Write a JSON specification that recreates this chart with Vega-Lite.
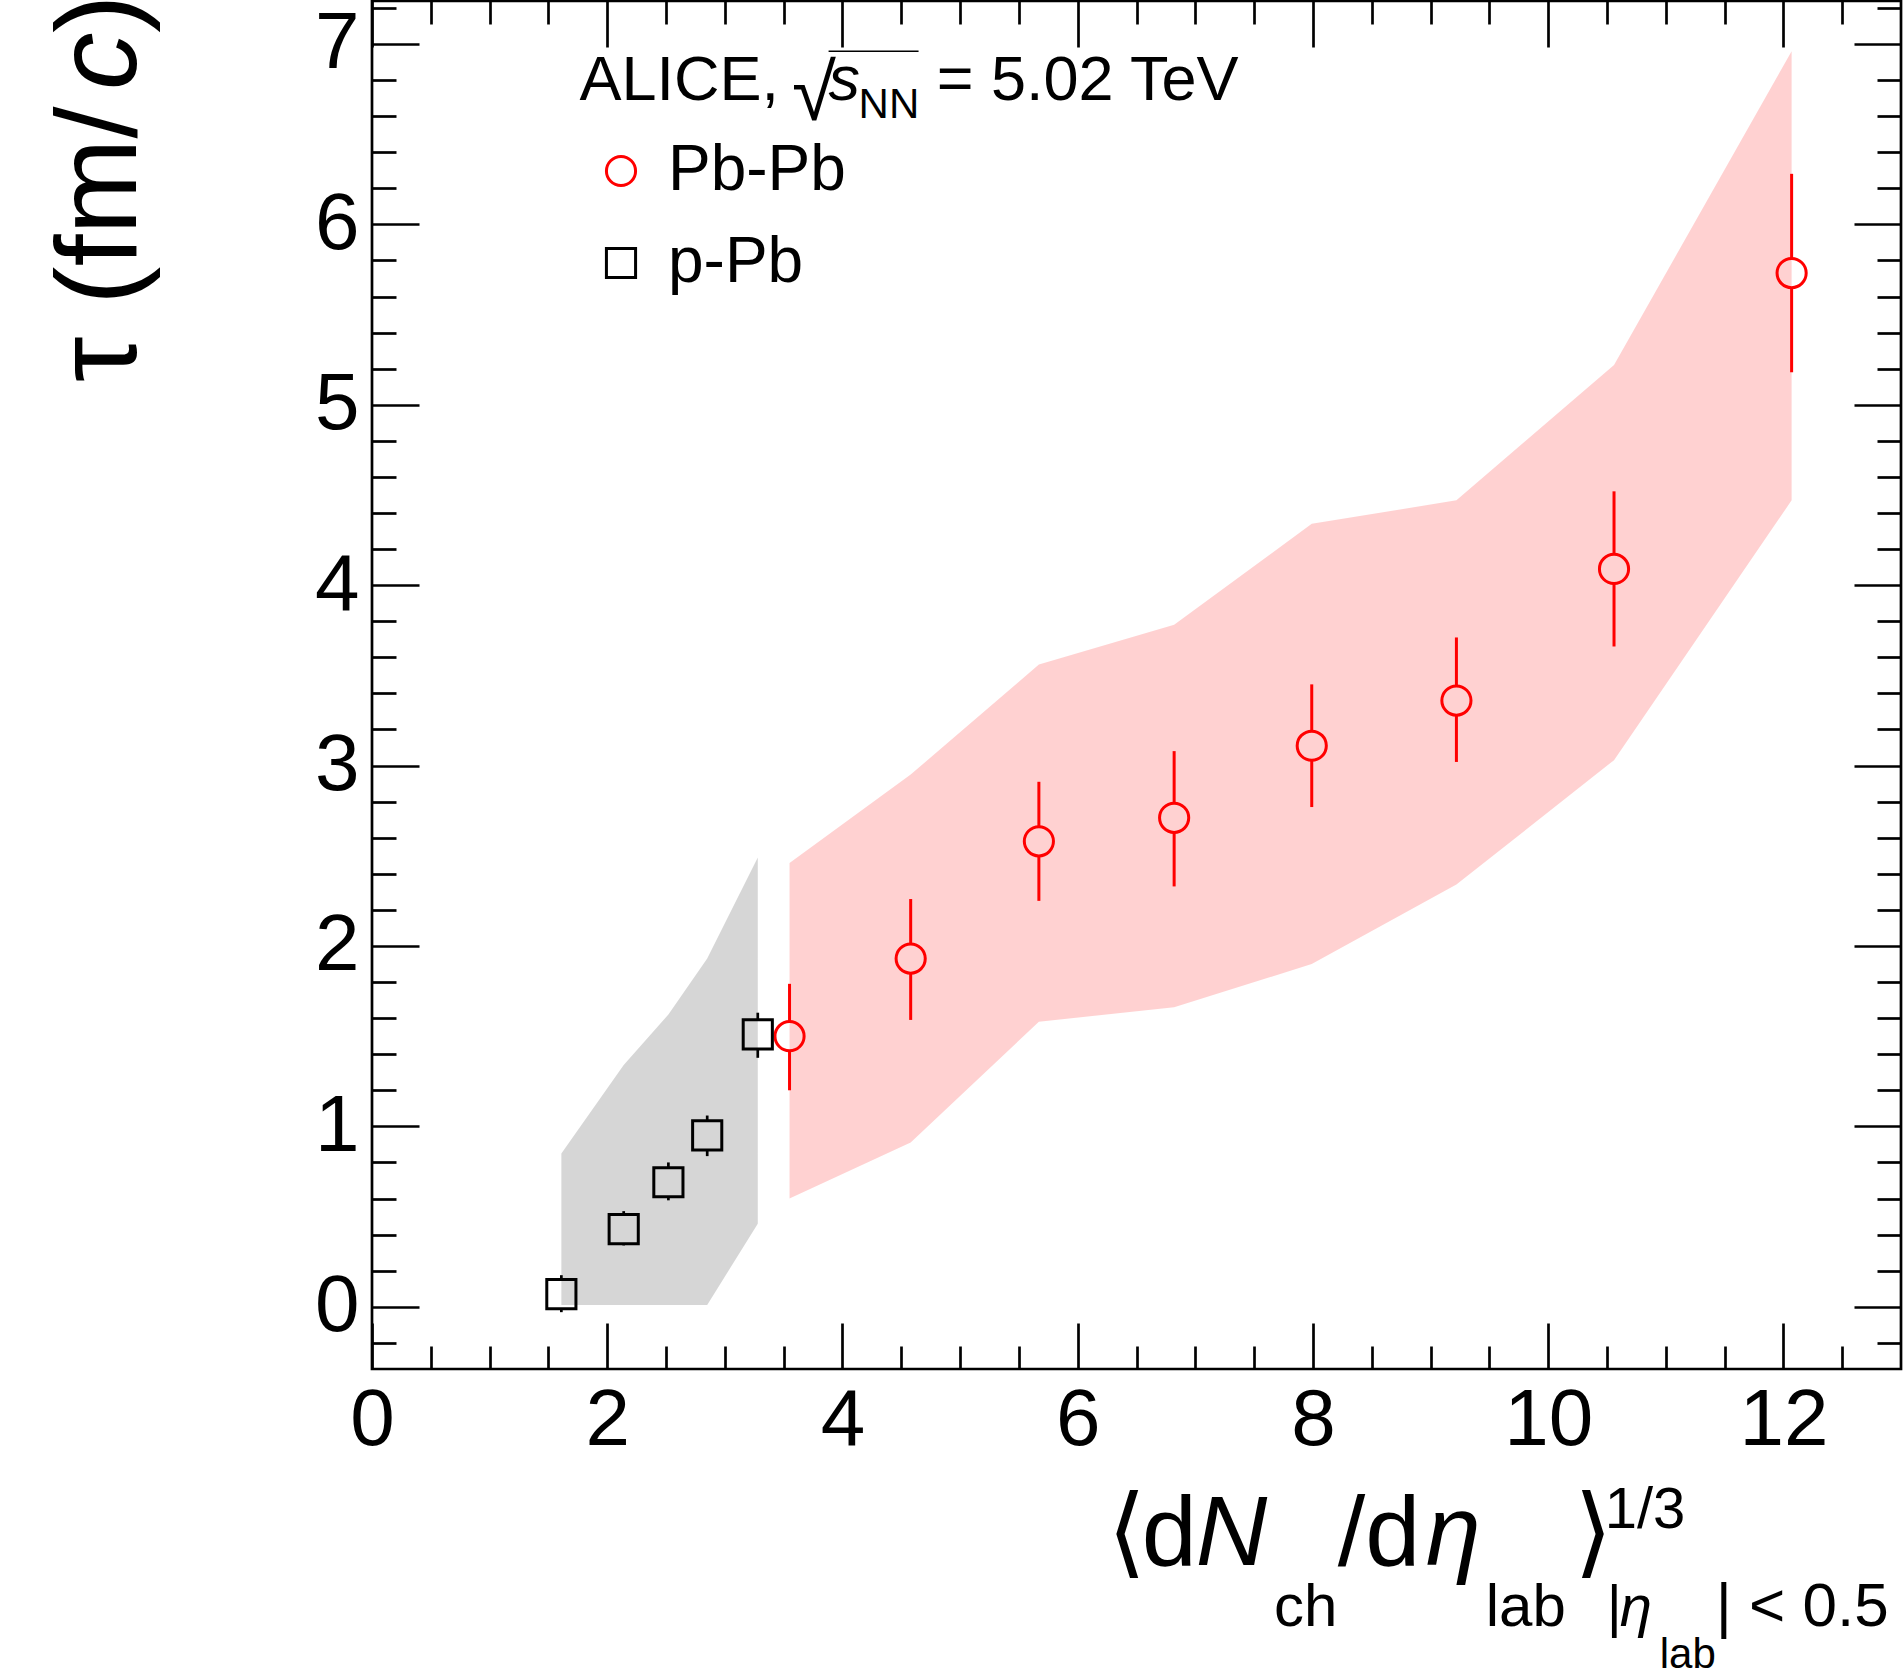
{
  "$schema": "https://vega.github.io/schema/vega-lite/v6.json",
  "width": 1529,
  "height": 1368,
  "autosize": {"type": "none"},
  "padding": {"left": 372, "top": 1, "right": 2, "bottom": 308},
  "datasets": {
    "meas": [
      {"sys": "Pb-Pb", "x": 3.55, "y": 1.50, "lo": 1.20, "hi": 1.79, "blo": 0.60, "bhi": 2.46},
      {"sys": "Pb-Pb", "x": 4.58, "y": 1.93, "lo": 1.59, "hi": 2.26, "blo": 0.91, "bhi": 2.95},
      {"sys": "Pb-Pb", "x": 5.67, "y": 2.58, "lo": 2.25, "hi": 2.91, "blo": 1.58, "bhi": 3.56},
      {"sys": "Pb-Pb", "x": 6.82, "y": 2.71, "lo": 2.33, "hi": 3.08, "blo": 1.66, "bhi": 3.78},
      {"sys": "Pb-Pb", "x": 7.99, "y": 3.11, "lo": 2.77, "hi": 3.45, "blo": 1.90, "bhi": 4.34},
      {"sys": "Pb-Pb", "x": 9.22, "y": 3.36, "lo": 3.02, "hi": 3.71, "blo": 2.34, "bhi": 4.47},
      {"sys": "Pb-Pb", "x": 10.56, "y": 4.09, "lo": 3.66, "hi": 4.52, "blo": 3.03, "bhi": 5.22},
      {"sys": "Pb-Pb", "x": 12.07, "y": 5.73, "lo": 5.18, "hi": 6.28, "blo": 4.47, "bhi": 6.96},
      {"sys": "p-Pb", "x": 1.61, "y": 0.07, "lo": -0.03, "hi": 0.175, "blo": 0.01, "bhi": 0.85},
      {"sys": "p-Pb", "x": 2.14, "y": 0.43, "lo": 0.34, "hi": 0.53, "blo": 0.01, "bhi": 1.34},
      {"sys": "p-Pb", "x": 2.52, "y": 0.69, "lo": 0.59, "hi": 0.80, "blo": 0.01, "bhi": 1.62},
      {"sys": "p-Pb", "x": 2.85, "y": 0.95, "lo": 0.835, "hi": 1.06, "blo": 0.01, "bhi": 1.93},
      {"sys": "p-Pb", "x": 3.28, "y": 1.51, "lo": 1.38, "hi": 1.63, "blo": 0.46, "bhi": 2.49}
    ],
    "reg63": [
      {"x": 1.764, "y": 6.689, "t": "ALICE,"},
      {"x": 4.801, "y": 6.689, "t": "= 5.02 TeV"}
    ],
    "reg62": [
      {"x": 11.425, "y": -1.770, "t": "| < 0.5"}
    ],
    "it63": [{"x": 3.882, "y": 6.689, "t": "s"}],
    "sub42": [
      {"x": 4.137, "y": 6.589, "t": "NN"},
      {"x": 10.949, "y": -2.003, "t": "lab"}
    ],
    "rad": [{"x": 3.570, "y": 6.580, "t": "√"}],
    "ovl": [{"x": 3.882, "x2": 4.647, "y": 6.960}],
    "reg99": [
      {"x": 6.254, "y": -1.432, "t": "⟨"},
      {"x": 6.544, "y": -1.432, "t": "d"},
      {"x": 8.211, "y": -1.432, "t": "/d"},
      {"x": 10.219, "y": -1.432, "t": "⟩"}
    ],
    "it99": [
      {"x": 7.003, "y": -1.432, "t": "N"},
      {"x": 8.959, "y": -1.432, "t": "η"}
    ],
    "sub60": [
      {"x": 7.670, "y": -1.770, "t": "ch"},
      {"x": 9.469, "y": -1.770, "t": "lab"}
    ],
    "reg58": [
      {"x": 10.481, "y": -1.226, "t": "1/3"},
      {"x": 10.498, "y": -1.770, "t": "|"}
    ],
    "it58": [{"x": 10.608, "y": -1.770, "t": "η"}],
    "ytitle": [
      {"x": -2.004, "y": 5.126, "t": "τ (fm/"},
      {"x": -2.004, "y": 7.06, "t": ")"}
    ],
    "ytitleit": [{"x": -2.004, "y": 6.745, "t": "c"}]
  },
  "config": {
    "font": "Liberation Sans",
    "view": {"stroke": "black", "strokeWidth": 2.7},
    "axis": {
      "domain": false,
      "grid": false,
      "tickColor": "black",
      "tickWidth": 2.7,
      "labelColor": "black",
      "labelFont": "Liberation Sans",
      "labelFontSize": 80,
      "labelOverlap": false,
      "labelFlush": false,
      "labelBound": false
    }
  },
  "resolve": {"axis": {"x": "independent", "y": "independent"}},
  "layer": [
    {
      "data": {"name": "meas"},
      "transform": [{"filter": "datum.sys === 'Pb-Pb'"}],
      "mark": {"type": "rule", "color": "#ff0000", "strokeWidth": 3},
      "encoding": {
        "x": {"field": "x", "type": "quantitative", "scale": {"domain": [0, 13], "nice": false, "zero": false}, "axis": null},
        "y": {"field": "lo", "type": "quantitative", "scale": {"domain": [-0.345, 7.238], "nice": false, "zero": false}, "axis": null},
        "y2": {"field": "hi"}
      }
    },
    {
      "data": {"name": "meas"},
      "transform": [{"filter": "datum.sys === 'p-Pb'"}],
      "mark": {"type": "rule", "color": "#000000", "strokeWidth": 2.7},
      "encoding": {
        "x": {"field": "x", "type": "quantitative", "scale": {"domain": [0, 13], "nice": false, "zero": false}, "axis": null},
        "y": {"field": "lo", "type": "quantitative", "scale": {"domain": [-0.345, 7.238], "nice": false, "zero": false}, "axis": null},
        "y2": {"field": "hi"}
      }
    },
    {
      "data": {"name": "meas"},
      "transform": [{"filter": "datum.sys === 'Pb-Pb'"}],
      "mark": {"type": "point", "shape": "circle", "filled": true, "size": 850, "color": "white", "opacity": 1, "strokeWidth": 0},
      "encoding": {
        "x": {"field": "x", "type": "quantitative", "scale": {"domain": [0, 13], "nice": false, "zero": false}, "axis": null},
        "y": {"field": "y", "type": "quantitative", "scale": {"domain": [-0.345, 7.238], "nice": false, "zero": false}, "axis": null}
      }
    },
    {
      "data": {"name": "meas"},
      "transform": [{"filter": "datum.sys === 'p-Pb'"}],
      "mark": {"type": "point", "shape": "square", "filled": true, "size": 850, "color": "white", "opacity": 1, "strokeWidth": 0},
      "encoding": {
        "x": {"field": "x", "type": "quantitative", "scale": {"domain": [0, 13], "nice": false, "zero": false}, "axis": null},
        "y": {"field": "y", "type": "quantitative", "scale": {"domain": [-0.345, 7.238], "nice": false, "zero": false}, "axis": null}
      }
    },
    {
      "data": {"name": "meas"},
      "transform": [{"filter": "datum.sys === 'Pb-Pb'"}],
      "mark": {"type": "area", "color": "#ff0000", "opacity": 0.18, "interpolate": "linear"},
      "encoding": {
        "x": {
          "field": "x", "type": "quantitative",
          "scale": {"domain": [0, 13], "nice": false, "zero": false},
          "axis": {
            "orient": "bottom", "title": null,
            "values": [0, 0.5, 1, 1.5, 2, 2.5, 3, 3.5, 4, 4.5, 5, 5.5, 6, 6.5, 7, 7.5, 8, 8.5, 9, 9.5, 10, 10.5, 11, 11.5, 12, 12.5],
            "labelExpr": "datum.value % 2 === 0 ? '' + datum.value : ''",
            "tickSize": {"condition": {"test": "datum.value % 2 === 0", "value": -46}, "value": -23},
            "labelPadding": 58
          }
        },
        "y": {
          "field": "blo", "type": "quantitative",
          "scale": {"domain": [-0.345, 7.238], "nice": false, "zero": false},
          "axis": {
            "orient": "left", "title": null,
            "values": [-0.2, 0, 0.2, 0.4, 0.6, 0.8, 1, 1.2, 1.4, 1.6, 1.8, 2, 2.2, 2.4, 2.6, 2.8, 3, 3.2, 3.4, 3.6, 3.8, 4, 4.2, 4.4, 4.6, 4.8, 5, 5.2, 5.4, 5.6, 5.8, 6, 6.2, 6.4, 6.6, 6.8, 7, 7.2],
            "labelExpr": "abs(datum.value - round(datum.value)) < 0.01 ? '' + round(datum.value) : ''",
            "tickSize": {"condition": {"test": "abs(datum.value - round(datum.value)) < 0.01", "value": -47}, "value": -24},
            "labelPadding": 60
          }
        },
        "y2": {"field": "bhi"}
      }
    },
    {
      "data": {"name": "meas"},
      "transform": [{"filter": "datum.sys === 'p-Pb'"}],
      "mark": {"type": "area", "color": "#000000", "opacity": 0.16, "interpolate": "linear"},
      "encoding": {
        "x": {
          "field": "x", "type": "quantitative",
          "scale": {"domain": [0, 13], "nice": false, "zero": false},
          "axis": {
            "orient": "top", "title": null, "labels": false,
            "values": [0, 0.5, 1, 1.5, 2, 2.5, 3, 3.5, 4, 4.5, 5, 5.5, 6, 6.5, 7, 7.5, 8, 8.5, 9, 9.5, 10, 10.5, 11, 11.5, 12, 12.5],
            "tickSize": {"condition": {"test": "datum.value % 2 === 0", "value": -46}, "value": -23}
          }
        },
        "y": {
          "field": "blo", "type": "quantitative",
          "scale": {"domain": [-0.345, 7.238], "nice": false, "zero": false},
          "axis": {
            "orient": "right", "title": null, "labels": false,
            "values": [-0.2, 0, 0.2, 0.4, 0.6, 0.8, 1, 1.2, 1.4, 1.6, 1.8, 2, 2.2, 2.4, 2.6, 2.8, 3, 3.2, 3.4, 3.6, 3.8, 4, 4.2, 4.4, 4.6, 4.8, 5, 5.2, 5.4, 5.6, 5.8, 6, 6.2, 6.4, 6.6, 6.8, 7, 7.2],
            "tickSize": {"condition": {"test": "abs(datum.value - round(datum.value)) < 0.01", "value": -47}, "value": -24}
          }
        },
        "y2": {"field": "bhi"}
      }
    },
    {
      "data": {"name": "meas"},
      "mark": {"type": "point", "filled": false, "size": 850, "strokeWidth": 3, "opacity": 1},
      "encoding": {
        "x": {"field": "x", "type": "quantitative", "scale": {"domain": [0, 13], "nice": false, "zero": false}, "axis": null},
        "y": {"field": "y", "type": "quantitative", "scale": {"domain": [-0.345, 7.238], "nice": false, "zero": false}, "axis": null},
        "shape": {
          "field": "sys", "type": "nominal",
          "scale": {"domain": ["Pb-Pb", "p-Pb"], "range": ["circle", "square"]},
          "legend": {"orient": "none", "legendX": 217, "legendY": 138, "title": null, "labelFontSize": 64, "labelFont": "Liberation Sans", "labelColor": "black", "labelLimit": 0, "symbolSize": 850, "symbolStrokeWidth": 3, "rowPadding": 28, "labelOffset": 15, "padding": 0}
        },
        "color": {
          "field": "sys", "type": "nominal",
          "scale": {"domain": ["Pb-Pb", "p-Pb"], "range": ["#ff0000", "#000000"]},
          "legend": {"orient": "none", "legendX": 217, "legendY": 138, "title": null, "labelFontSize": 64, "labelFont": "Liberation Sans", "labelColor": "black", "labelLimit": 0, "symbolSize": 850, "symbolStrokeWidth": 3, "rowPadding": 28, "labelOffset": 15, "padding": 0}
        }
      }
    },
    {
      "data": {"name": "reg63"},
      "mark": {"type": "text", "align": "left", "baseline": "alphabetic", "fontSize": 63, "font": "Liberation Sans", "color": "black"},
      "encoding": {
        "x": {"field": "x", "type": "quantitative", "scale": {"domain": [0, 13], "nice": false, "zero": false}, "axis": null},
        "y": {"field": "y", "type": "quantitative", "scale": {"domain": [-0.345, 7.238], "nice": false, "zero": false}, "axis": null},
        "text": {"field": "t"}
      }
    },
    {
      "data": {"name": "reg62"},
      "mark": {"type": "text", "align": "left", "baseline": "alphabetic", "fontSize": 62, "font": "Liberation Sans", "color": "black"},
      "encoding": {
        "x": {"field": "x", "type": "quantitative", "scale": {"domain": [0, 13], "nice": false, "zero": false}, "axis": null},
        "y": {"field": "y", "type": "quantitative", "scale": {"domain": [-0.345, 7.238], "nice": false, "zero": false}, "axis": null},
        "text": {"field": "t"}
      }
    },
    {
      "data": {"name": "it63"},
      "mark": {"type": "text", "align": "left", "baseline": "alphabetic", "fontSize": 63, "fontStyle": "italic", "font": "Liberation Sans", "color": "black"},
      "encoding": {
        "x": {"field": "x", "type": "quantitative", "scale": {"domain": [0, 13], "nice": false, "zero": false}, "axis": null},
        "y": {"field": "y", "type": "quantitative", "scale": {"domain": [-0.345, 7.238], "nice": false, "zero": false}, "axis": null},
        "text": {"field": "t"}
      }
    },
    {
      "data": {"name": "sub42"},
      "mark": {"type": "text", "align": "left", "baseline": "alphabetic", "fontSize": 42, "font": "Liberation Sans", "color": "black"},
      "encoding": {
        "x": {"field": "x", "type": "quantitative", "scale": {"domain": [0, 13], "nice": false, "zero": false}, "axis": null},
        "y": {"field": "y", "type": "quantitative", "scale": {"domain": [-0.345, 7.238], "nice": false, "zero": false}, "axis": null},
        "text": {"field": "t"}
      }
    },
    {
      "data": {"name": "rad"},
      "mark": {"type": "text", "align": "left", "baseline": "alphabetic", "fontSize": 80, "font": "Liberation Sans", "color": "black"},
      "encoding": {
        "x": {"field": "x", "type": "quantitative", "scale": {"domain": [0, 13], "nice": false, "zero": false}, "axis": null},
        "y": {"field": "y", "type": "quantitative", "scale": {"domain": [-0.345, 7.238], "nice": false, "zero": false}, "axis": null},
        "text": {"field": "t"}
      }
    },
    {
      "data": {"name": "ovl"},
      "mark": {"type": "rule", "color": "black", "strokeWidth": 1.5},
      "encoding": {
        "x": {"field": "x", "type": "quantitative", "scale": {"domain": [0, 13], "nice": false, "zero": false}, "axis": null},
        "x2": {"field": "x2"},
        "y": {"field": "y", "type": "quantitative", "scale": {"domain": [-0.345, 7.238], "nice": false, "zero": false}, "axis": null}
      }
    },
    {
      "data": {"name": "reg99"},
      "mark": {"type": "text", "align": "left", "baseline": "alphabetic", "fontSize": 99, "font": "Liberation Sans, DejaVu Sans", "color": "black"},
      "encoding": {
        "x": {"field": "x", "type": "quantitative", "scale": {"domain": [0, 13], "nice": false, "zero": false}, "axis": null},
        "y": {"field": "y", "type": "quantitative", "scale": {"domain": [-0.345, 7.238], "nice": false, "zero": false}, "axis": null},
        "text": {"field": "t"}
      }
    },
    {
      "data": {"name": "it99"},
      "mark": {"type": "text", "align": "left", "baseline": "alphabetic", "fontSize": 99, "fontStyle": "italic", "font": "Liberation Sans", "color": "black"},
      "encoding": {
        "x": {"field": "x", "type": "quantitative", "scale": {"domain": [0, 13], "nice": false, "zero": false}, "axis": null},
        "y": {"field": "y", "type": "quantitative", "scale": {"domain": [-0.345, 7.238], "nice": false, "zero": false}, "axis": null},
        "text": {"field": "t"}
      }
    },
    {
      "data": {"name": "sub60"},
      "mark": {"type": "text", "align": "left", "baseline": "alphabetic", "fontSize": 60, "font": "Liberation Sans", "color": "black"},
      "encoding": {
        "x": {"field": "x", "type": "quantitative", "scale": {"domain": [0, 13], "nice": false, "zero": false}, "axis": null},
        "y": {"field": "y", "type": "quantitative", "scale": {"domain": [-0.345, 7.238], "nice": false, "zero": false}, "axis": null},
        "text": {"field": "t"}
      }
    },
    {
      "data": {"name": "reg58"},
      "mark": {"type": "text", "align": "left", "baseline": "alphabetic", "fontSize": 58, "font": "Liberation Sans", "color": "black"},
      "encoding": {
        "x": {"field": "x", "type": "quantitative", "scale": {"domain": [0, 13], "nice": false, "zero": false}, "axis": null},
        "y": {"field": "y", "type": "quantitative", "scale": {"domain": [-0.345, 7.238], "nice": false, "zero": false}, "axis": null},
        "text": {"field": "t"}
      }
    },
    {
      "data": {"name": "it58"},
      "mark": {"type": "text", "align": "left", "baseline": "alphabetic", "fontSize": 58, "fontStyle": "italic", "font": "Liberation Sans", "color": "black"},
      "encoding": {
        "x": {"field": "x", "type": "quantitative", "scale": {"domain": [0, 13], "nice": false, "zero": false}, "axis": null},
        "y": {"field": "y", "type": "quantitative", "scale": {"domain": [-0.345, 7.238], "nice": false, "zero": false}, "axis": null},
        "text": {"field": "t"}
      }
    },
    {
      "data": {"name": "ytitle"},
      "mark": {"type": "text", "align": "left", "baseline": "alphabetic", "angle": 270, "fontSize": 115, "font": "Liberation Sans", "color": "black"},
      "encoding": {
        "x": {"field": "x", "type": "quantitative", "scale": {"domain": [0, 13], "nice": false, "zero": false}, "axis": null},
        "y": {"field": "y", "type": "quantitative", "scale": {"domain": [-0.345, 7.238], "nice": false, "zero": false}, "axis": null},
        "text": {"field": "t"}
      }
    },
    {
      "data": {"name": "ytitleit"},
      "mark": {"type": "text", "align": "left", "baseline": "alphabetic", "angle": 270, "fontSize": 115, "fontStyle": "italic", "font": "Liberation Sans", "color": "black"},
      "encoding": {
        "x": {"field": "x", "type": "quantitative", "scale": {"domain": [0, 13], "nice": false, "zero": false}, "axis": null},
        "y": {"field": "y", "type": "quantitative", "scale": {"domain": [-0.345, 7.238], "nice": false, "zero": false}, "axis": null},
        "text": {"field": "t"}
      }
    }
  ]
}
